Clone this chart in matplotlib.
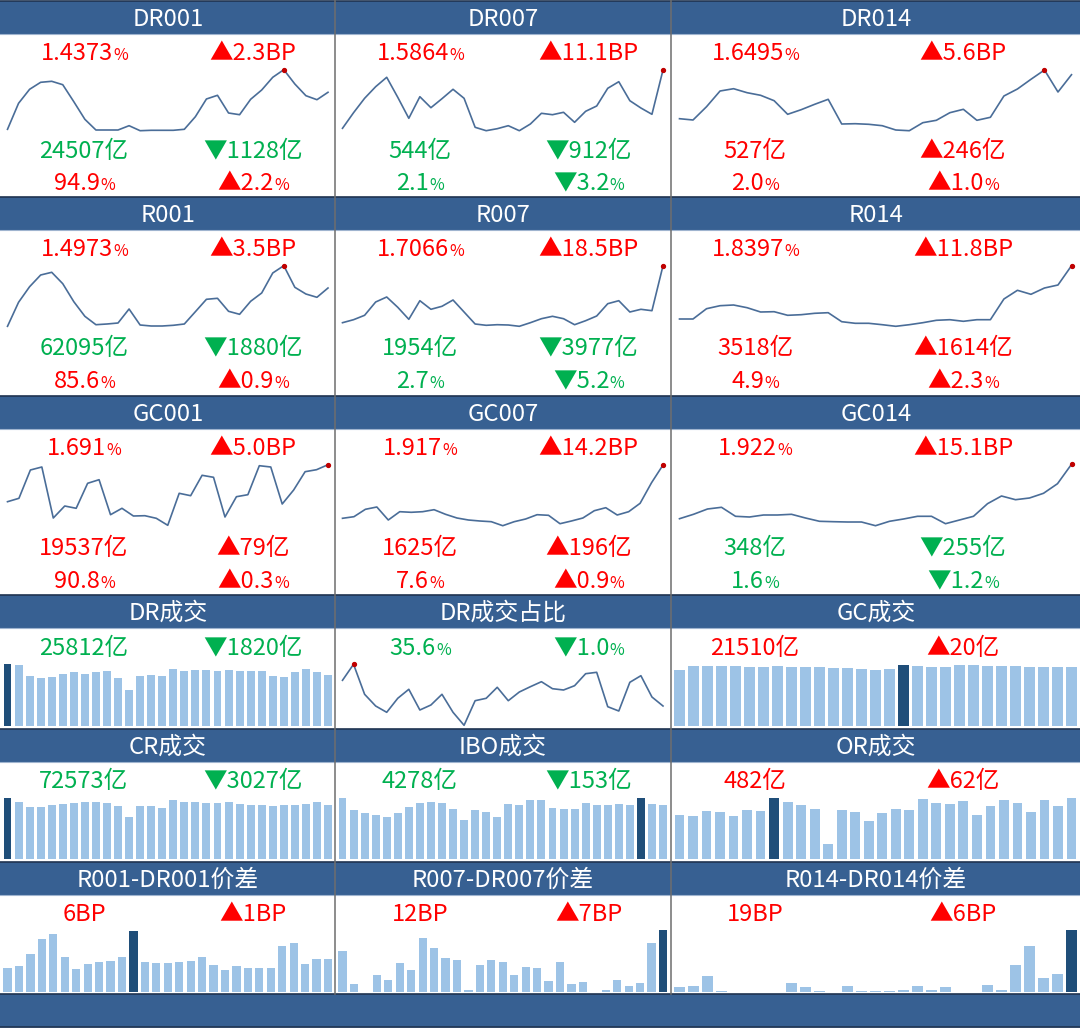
"""
Money market dashboard: repo rates, volumes and spreads on one page
"""

import matplotlib
matplotlib.use('Agg')
import matplotlib.pyplot as plt
from matplotlib.patches import Rectangle
import numpy as np

plt.rcParams['font.family'] = ['Noto Sans CJK SC', 'DejaVu Sans']
plt.rcParams['font.weight'] = 'medium'

# Rate curves (relative height in the panel)
dr001 = [10.7, 36.7, 50.7, 57.7, 58.7, 55.3, 38.3, 20.7, 10, 10, 10, 14.3, 9.3, 9.7, 9.7, 9.7, 10.7, 23.3, 41, 44.7, 27, 25.3, 40.7, 50, 62.7, 70.3, 56, 44.3, 40.3, 47.7]
dr007 = [11.7, 27.3, 41.7, 53.3, 62.7, 42.7, 21.7, 43.3, 32.3, 41.3, 50.7, 41.7, 12.7, 9.3, 11.3, 14.3, 9.3, 16, 26.7, 25.3, 27.7, 17.7, 28.7, 34, 51.7, 58.3, 39.3, 32, 25.7, 70]
dr014 = [21.3, 20, 33.3, 49, 51.3, 47.3, 44.7, 39.3, 25.7, 30.3, 35.7, 40.7, 16, 16.3, 15.7, 14.3, 10, 9.3, 17.3, 19.7, 27.3, 30.7, 19.7, 22.7, 44, 51, 60.7, 70, 48, 65.3]
r001 = [8.7, 32.7, 48.3, 60, 62.7, 51.3, 33.3, 18.7, 10.3, 11, 12, 26, 10, 9, 9, 9.7, 11, 23.3, 35.7, 36.7, 23.7, 20.7, 33.7, 42, 62, 69.3, 47.7, 41, 37.7, 47]
r007 = [12.3, 15.3, 19.7, 33, 38, 27.7, 15.7, 34.3, 25.7, 28.7, 35, 23, 11, 9.7, 10.3, 10, 8.7, 12.3, 16.3, 18.7, 16.3, 10.3, 14.3, 19, 31.3, 34.3, 23, 25.7, 24.3, 69.3]
r014 = [16, 16, 26.3, 29.3, 30, 27.3, 23, 23.3, 19.7, 20.3, 21.7, 22.3, 13.3, 11.7, 11.7, 10.3, 8.7, 10.3, 12.3, 14.7, 15.3, 13.7, 15.3, 15.3, 36, 44.7, 40.7, 47, 50, 69.3]
gc001 = [33.3, 36.7, 65, 68, 17, 29, 26.7, 51.7, 55.3, 20.3, 26.7, 19, 19.3, 16.7, 9.7, 41.7, 39.3, 59.7, 57.7, 18, 38.3, 40.3, 69.3, 68, 31, 45, 63.3, 65.3, 70.3]
gc007 = [16.7, 18.3, 25.7, 28, 15, 23.3, 22.7, 23.3, 25.3, 20.7, 17, 15, 14, 13.3, 9.3, 13.3, 16, 20.3, 19.7, 11.3, 14, 17, 24.3, 27.3, 20, 23.3, 31.7, 52.3, 70]
gc014 = [16.3, 20.7, 26, 27.7, 18.7, 18, 20, 20, 20.7, 17, 13.7, 13.3, 13, 13, 9.3, 13.7, 16, 18.7, 18.7, 11.3, 15, 18.7, 31.3, 39, 35.3, 37, 41.7, 51.3, 70.7]
dr_share = [49.7, 65.7, 35.7, 24, 17.7, 31.7, 40.7, 20, 25, 35.7, 17.7, 4.7, 29.3, 31.7, 42.7, 29.3, 38, 43.3, 48.3, 41.3, 40, 44.3, 56.3, 57.7, 23.3, 19, 47.7, 54.3, 33, 24]

# Volume and spread bars
dr_vol = [61.7, 61, 50, 48.3, 49, 52, 54, 52, 53.7, 54.7, 48.3, 36.3, 50, 51, 50, 56.7, 55.3, 56, 56, 54.7, 56, 54.7, 55.3, 55.3, 49.7, 49, 53.7, 56.7, 54, 51]
gc_vol = [56, 60, 60, 60, 60, 59, 59, 60, 59, 59, 59, 58, 58, 57, 56, 57, 61, 60, 59, 59, 61, 61, 60, 60, 60, 59, 59, 59, 59]
cr_vol = [61.3, 57.3, 51.7, 51.7, 53.7, 54.7, 55.7, 56.7, 56.7, 56, 53, 41.7, 53, 53, 51, 59, 57.3, 56.7, 56, 56, 57.3, 54.7, 53.7, 53.7, 53, 53.7, 53.7, 54.7, 56.7, 54]
ibo_vol = [60.7, 49.3, 46, 44.3, 42.3, 46, 52.3, 56, 57.3, 56.3, 50.3, 39, 49.3, 47.3, 42.3, 55.3, 54, 58.7, 58.7, 51, 50.3, 49.7, 55.7, 54.3, 53.7, 54.7, 54, 61.3, 55.3, 53.7]
or_vol = [44.3, 43.3, 48.3, 47.3, 43, 49.3, 48.3, 61.3, 56.7, 53.7, 50.3, 14.7, 49.3, 47.3, 37.7, 46, 49.7, 49, 59.7, 55.7, 54.7, 58, 44.3, 53, 59, 55.7, 47.3, 59, 53, 61.3]
spread_1d = [24, 26, 38, 53, 58, 35, 23, 28, 30, 31, 35, 61, 30, 29, 29, 30, 31, 35, 27, 22, 26, 24, 24, 24, 46, 49, 28, 33, 33]
spread_7d = [40.7, 8, 0, 16.7, 12.3, 28.7, 22.3, 54, 44, 33.7, 32, 1.7, 27.3, 32.3, 30, 17.3, 25.3, 23.7, 11, 30, 8, 10, 0, 1.7, 11.7, 6, 8.7, 49.3, 61.7]
spread_14d = [5, 6, 16, 1, 0, 0, 0, 0, 9, 5, 1, 0, 6, 1, 1, 1, 2, 6, 2, 5, 0, 0, 7, 2, 27, 46, 14, 18, 62]

# Index of the dark bar in each bar panel
dr_vol_now, gc_vol_now, cr_vol_now, ibo_vol_now, or_vol_now = 0, 16, 0, 27, 7
spread_1d_now, spread_7d_now, spread_14d_now = 11, 28, 28

# Panel titles and texts
row_titles = [
    ['DR001', 'DR007', 'DR014'],
    ['R001', 'R007', 'R014'],
    ['GC001', 'GC007', 'GC014'],
    ['DR成交', 'DR成交占比', 'GC成交'],
    ['CR成交', 'IBO成交', 'OR成交'],
    ['R001-DR001价差', 'R007-DR007价差', 'R014-DR014价差'],
]
rate_texts = [
    [[('1.4373%', 'r'), ('▲2.3BP', 'r'), ('24507亿', 'g'), ('▼1128亿', 'g'), ('94.9%', 'r'), ('▲2.2%', 'r')],
     [('1.5864%', 'r'), ('▲11.1BP', 'r'), ('544亿', 'g'), ('▼912亿', 'g'), ('2.1%', 'g'), ('▼3.2%', 'g')],
     [('1.6495%', 'r'), ('▲5.6BP', 'r'), ('527亿', 'r'), ('▲246亿', 'r'), ('2.0%', 'r'), ('▲1.0%', 'r')]],
    [[('1.4973%', 'r'), ('▲3.5BP', 'r'), ('62095亿', 'g'), ('▼1880亿', 'g'), ('85.6%', 'r'), ('▲0.9%', 'r')],
     [('1.7066%', 'r'), ('▲18.5BP', 'r'), ('1954亿', 'g'), ('▼3977亿', 'g'), ('2.7%', 'g'), ('▼5.2%', 'g')],
     [('1.8397%', 'r'), ('▲11.8BP', 'r'), ('3518亿', 'r'), ('▲1614亿', 'r'), ('4.9%', 'r'), ('▲2.3%', 'r')]],
    [[('1.691%', 'r'), ('▲5.0BP', 'r'), ('19537亿', 'r'), ('▲79亿', 'r'), ('90.8%', 'r'), ('▲0.3%', 'r')],
     [('1.917%', 'r'), ('▲14.2BP', 'r'), ('1625亿', 'r'), ('▲196亿', 'r'), ('7.6%', 'r'), ('▲0.9%', 'r')],
     [('1.922%', 'r'), ('▲15.1BP', 'r'), ('348亿', 'g'), ('▼255亿', 'g'), ('1.6%', 'g'), ('▼1.2%', 'g')]],
]
bar_texts = [
    [[('25812亿', 'g'), ('▼1820亿', 'g')], [('35.6%', 'g'), ('▼1.0%', 'g')], [('21510亿', 'r'), ('▲20亿', 'r')]],
    [[('72573亿', 'g'), ('▼3027亿', 'g')], [('4278亿', 'g'), ('▼153亿', 'g')], [('482亿', 'r'), ('▲62亿', 'r')]],
    [[('6BP', 'r'), ('▲1BP', 'r')], [('12BP', 'r'), ('▲7BP', 'r')], [('19BP', 'r'), ('▲6BP', 'r')]],
]

W, H = 1080, 1028
HEADER = '#376092'
LINE = '#4A6D98'
BAR = '#9DC3E6'
BAR_NOW = '#1F4E79'
COLORS = {'r': '#FF0000', 'g': '#00B050'}

COL_EDGES = [0, 335, 671, 1080]
COL_SPANS = [(7.5, 328), (342.5, 663), (679.5, 1071.5)]
TITLE_X = [168, 503, 876]
LEFT_X = [84, 420, 755]
RIGHT_X = [253, 588.5, 963]
HEADER_TOPS = [1, 197, 396, 595, 729, 862, 994]
TITLE_Y = [18, 214, 413, 612, 746, 879]

fig = plt.figure(figsize=(W / 100, H / 100), dpi=100)
bg = fig.add_axes([0, 0, 1, 1])
bg.set_xlim(0, W)
bg.set_ylim(H, 0)
bg.axis('off')
renderer = fig.canvas.get_renderer()


def inset(x0, x1, top, height, ymax, n):
    """Axes placed by pixel box, x running over the point indices"""
    ax = fig.add_axes([x0 / W, 1 - (top + height) / H, (x1 - x0) / W, height / H])
    ax.set_xlim(0, n - 1)
    ax.set_ylim(0, ymax)
    ax.axis('off')
    return ax


def draw_line(col, top, values, height=80):
    x0, x1 = COL_SPANS[col]
    ax = inset(x0, x1, top, height, height, len(values))
    xs = np.arange(len(values))
    ax.plot(xs, values, color=LINE, linewidth=1.2, clip_on=False)
    peak = int(np.argmax(values))
    ax.plot(xs[peak], values[peak], 'o', color='#C00000', markersize=2.8, clip_on=False)


def draw_bars(col, bottom, values, now):
    x0, x1 = COL_SPANS[col]
    ax = inset(x0, x1, bottom - 70, 70, 70, len(values))
    colors = [BAR_NOW if i == now else BAR for i in range(len(values))]
    ax.bar(np.arange(len(values)), values, width=0.72, color=colors, clip_on=False)


def put_value(xc, yc, text, color, size=17):
    """Centred value text, a trailing % is set smaller like in the sheet"""
    base = yc + 8
    if text.endswith('%'):
        main = bg.text(0, base, text[:-1], color=color, fontsize=size, va='baseline', ha='left')
        unit = bg.text(0, base, '%', color=color, fontsize=size * 0.68, va='baseline', ha='left')
        w_main = main.get_window_extent(renderer).width
        w_unit = unit.get_window_extent(renderer).width
        left = xc - (w_main + w_unit) / 2
        main.set_x(left)
        unit.set_x(left + w_main + 0.5)
    else:
        bg.text(xc, base, text, color=color, fontsize=size, va='baseline', ha='center')


# Header bands and grid lines
for top in HEADER_TOPS:
    bg.add_patch(Rectangle((0, top), W, 33, facecolor=HEADER, edgecolor='none', zorder=1))
    bg.plot([0, W], [top, top], color='#1F3350', linewidth=1.2, zorder=2)
    bg.plot([0, W], [top + 33, top + 33], color='#9FB4CF', linewidth=0.8, zorder=2)
bg.plot([0, W], [1027, 1027], color='#1F3350', linewidth=1.2, zorder=2)
for edge in COL_EDGES[1:3]:
    bg.plot([edge, edge], [0, 994], color='#6E6E6E', linewidth=1.1, zorder=2)

for r, titles in enumerate(row_titles):
    for c, title in enumerate(titles):
        bg.text(TITLE_X[c], TITLE_Y[r] + 8, title, color='white', fontsize=17.2,
                ha='center', va='baseline', zorder=3)

# Rate rows
rate_curves = [[dr001, dr007, dr014], [r001, r007, r014], [gc001, gc007, gc014]]
rate_tops = [60, 255, 455]
value_rows = [(52, 150, 182), (248, 347, 380), (447, 547, 580)]
for r in range(3):
    for c in range(3):
        draw_line(c, rate_tops[r], rate_curves[r][c])
        labels = rate_texts[r][c]
        for k in range(3):
            y = value_rows[r][k]
            put_value(LEFT_X[c], y, labels[2 * k][0], COLORS[labels[2 * k][1]])
            put_value(RIGHT_X[c], y, labels[2 * k + 1][0], COLORS[labels[2 * k + 1][1]])

# Volume and spread rows
bar_y = [647, 780, 913]
for r in range(3):
    for c in range(3):
        labels = bar_texts[r][c]
        put_value(LEFT_X[c], bar_y[r], labels[0][0], COLORS[labels[0][1]])
        put_value(RIGHT_X[c], bar_y[r], labels[1][0], COLORS[labels[1][1]])

draw_bars(0, 726, dr_vol, dr_vol_now)
draw_line(1, 655, dr_share, height=75)
draw_bars(2, 726, gc_vol, gc_vol_now)
draw_bars(0, 859, cr_vol, cr_vol_now)
draw_bars(1, 859, ibo_vol, ibo_vol_now)
draw_bars(2, 859, or_vol, or_vol_now)
draw_bars(0, 992, spread_1d, spread_1d_now)
draw_bars(1, 992, spread_7d, spread_7d_now)
draw_bars(2, 992, spread_14d, spread_14d_now)

fig.savefig('out.png', dpi=100)
